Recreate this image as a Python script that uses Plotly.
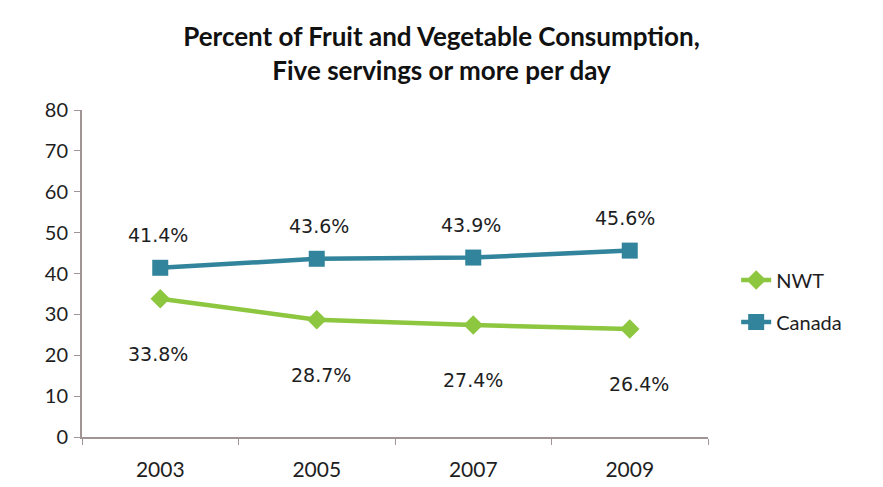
import plotly.graph_objects as go

years = ["2003", "2005", "2007", "2009"]
nwt = [33.8, 28.7, 27.4, 26.4]
canada = [41.4, 43.6, 43.9, 45.6]
y_ticks = [0, 10, 20, 30, 40, 50, 60, 70, 80]

NWT_COLOR = "#8DC63F"
CAN_COLOR = "#31849B"
AXIS_COLOR = "#A09494"
TEXT_COLOR = "#1E1E1E"

fig = go.Figure()
fig.add_trace(go.Scatter(
    x=years, y=nwt, name="NWT", mode="lines+markers", legendgroup="nwt",
    line=dict(color=NWT_COLOR, width=4.5),
    marker=dict(symbol="diamond", size=15, color=NWT_COLOR),
))
fig.add_trace(go.Scatter(
    x=years, y=canada, name="Canada", mode="lines+markers", legendgroup="canada",
    line=dict(color=CAN_COLOR, width=4.5),
    marker=dict(symbol="square", size=16, color=CAN_COLOR),
))

# Value labels: NWT below its markers, Canada above (x given as category index)
label_font = dict(family="DejaVu Sans", size=19, color=TEXT_COLOR)
nwt_xshift = [-2, 4, 0, 9]
can_xshift = [-2, 2, -2, -5]
for i in range(len(years)):
    fig.add_annotation(x=i, y=nwt[i], text=f"{nwt[i]:.1f}%", showarrow=False,
                       yshift=-55, xshift=nwt_xshift[i], font=label_font)
    fig.add_annotation(x=i, y=canada[i], text=f"{canada[i]:.1f}%", showarrow=False,
                       yshift=33, xshift=can_xshift[i], font=label_font)

fig.update_layout(
    width=883, height=487,
    margin=dict(l=82, r=175, t=110, b=50),
    paper_bgcolor="white", plot_bgcolor="white",
    title=dict(
        text="<b>Percent of Fruit and Vegetable Consumption,<br>Five servings or more per day</b>",
        x=0.5, xanchor="center", xref="container",
        y=0.905, yanchor="top", yref="container",
        font=dict(family="Lato", size=26, color="#111111"),
    ),
    showlegend=True,
    legend=dict(x=1.045, y=0.416, xanchor="left", yanchor="middle",
                font=dict(family="Lato", size=20, color=TEXT_COLOR),
                tracegroupgap=13, bgcolor="rgba(0,0,0,0)"),
    xaxis=dict(
        type="category", range=[-0.5, 3.5], automargin=False,
        showline=True, linecolor=AXIS_COLOR, linewidth=2,
        ticks="outside", tickson="boundaries", tickcolor=AXIS_COLOR, ticklen=6,
        showgrid=False, tickfont=dict(family="Lato", size=21, color=TEXT_COLOR),
        ticklabelstandoff=13,
    ),
    yaxis=dict(
        range=[0, 80], tickvals=y_ticks, automargin=False,
        showline=True, linecolor=AXIS_COLOR, linewidth=2,
        ticks="outside", tickcolor=AXIS_COLOR, ticklen=6,
        showgrid=False, zeroline=False,
        tickfont=dict(family="Lato", size=20, color=TEXT_COLOR),
        ticklabelstandoff=2,
    ),
)

fig.write_html("out.html")
